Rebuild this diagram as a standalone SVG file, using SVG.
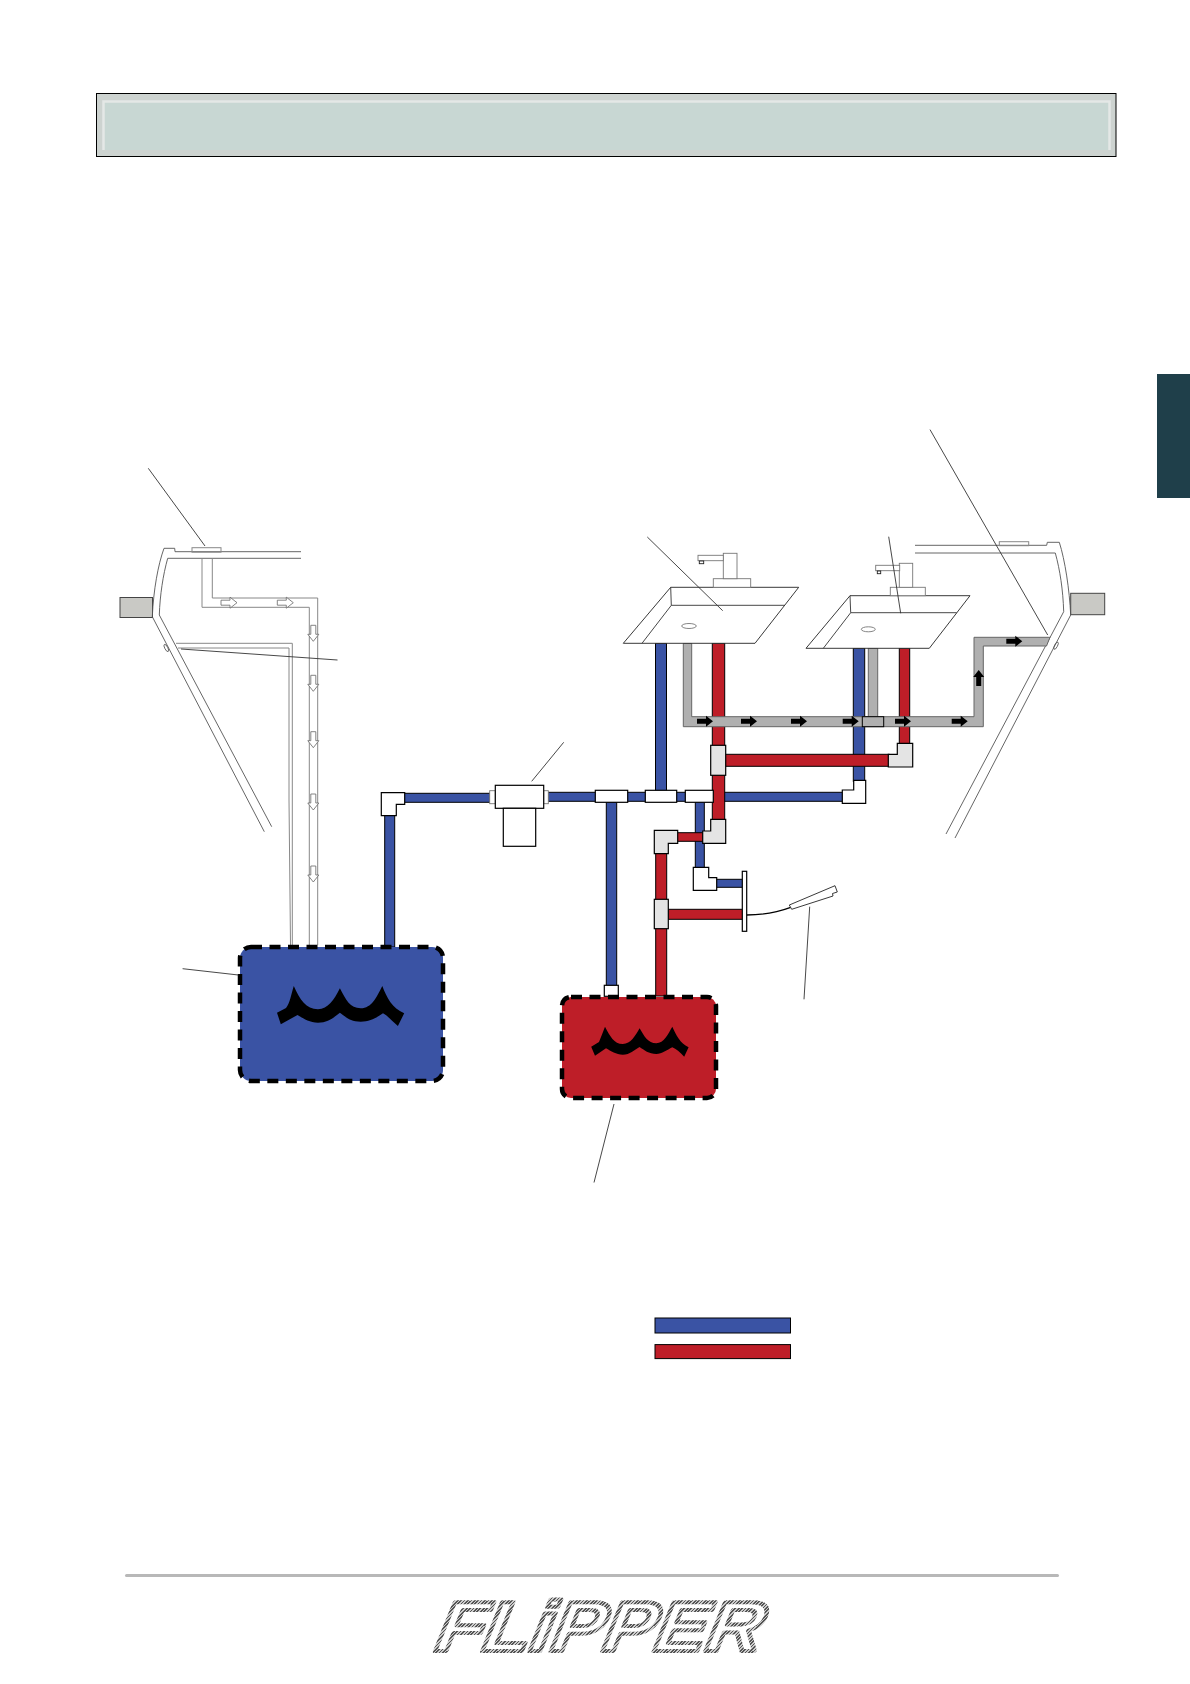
<svg xmlns="http://www.w3.org/2000/svg" width="1190" height="1684" viewBox="0 0 1190 1684">
<style>
.ln{fill:none;stroke:#333;stroke-width:.9}
.hull{fill:none;stroke:#555;stroke-width:.9}
.lt{fill:none;stroke:#888;stroke-width:1}
.sink{fill:#fff;stroke:#222;stroke-width:.9}
.fx{fill:#fff;stroke:#777;stroke-width:.9}
.blue{fill:#3a53a4;stroke:#000;stroke-width:1}
.red{fill:#be1e28;stroke:#000;stroke-width:1}
.gray{fill:#b0b0b0;stroke:#666;stroke-width:1}
.fw{fill:#fff;stroke:#000;stroke-width:1.2}
.fg{fill:#e4e4e4;stroke:#000;stroke-width:1.2}
.box{fill:#c9c9c5;stroke:#444;stroke-width:1}
.tank{stroke:#000;stroke-width:4.5;stroke-dasharray:11 7.500}
</style>
<defs>
<path id="ar" d="M0-2.500H9V-5.500L16 0L9 5.500V2.500H0Z" fill="#000"/>
<path id="aw" d="M0-2.500H9V-5.500L16 0L9 5.500V2.500H0Z" fill="#fff" stroke="#666" stroke-width=".8"/>
<linearGradient id="chrome" gradientUnits="userSpaceOnUse" x1="0" y1="0" x2="2.500" y2="1.500" spreadMethod="repeat">
<stop offset="0" stop-color="#555"/><stop offset=".5" stop-color="#555"/><stop offset=".5" stop-color="#ccc"/><stop offset="1" stop-color="#ccc"/>
</linearGradient>
</defs>

<g id="header"><rect x="96.500" y="93.500" width="1019.500" height="63" fill="#cdd3d0" stroke="#000" stroke-width="1"/><rect x="103" y="101" width="1006" height="49" fill="#c8d7d3"/><path d="M103.500 150V101.500H1109.500V150" fill="none" stroke="#e4e8e6" stroke-width="2.500"/></g>
<rect id="side-tab" x="1157" y="374" width="33" height="124" fill="#1f3f4a"/>

<g id="hull-left">
<rect class="box" x="120" y="597.500" width="32.500" height="20"/>
<path class="hull" d="M301 551.700H175L174.700 548.300H164C158 565 153.500 590 152.300 616.700L264.300 831.700M301 558.300H167.700C163 575 160 595 159.300 615L271.700 826.700"/>
<rect class="lt" x="192" y="547.700" width="29" height="4.500"/>
<path class="lt" d="M202 558.300V607.300H309.300V945M212.300 558.300V598H317.700V945M176 643.300H292.300V945M178 648H289V800L290.500 945"/>
<ellipse cx="166.300" cy="648" rx="1.500" ry="4" transform="rotate(-28 166.300 648)" fill="none" stroke="#555" stroke-width=".8"/>
<use href="#aw" x="221" y="602.700"/><use href="#aw" x="277.300" y="602.700"/>
<use href="#aw" transform="translate(313.300 625.300) rotate(90)"/><use href="#aw" transform="translate(313.300 675.300) rotate(90)"/><use href="#aw" transform="translate(313.300 731.700) rotate(90)"/><use href="#aw" transform="translate(313.300 794) rotate(90)"/><use href="#aw" transform="translate(313.300 866) rotate(90)"/>
</g>

<g id="hull-right">
<rect class="box" x="1070.700" y="593.300" width="34" height="21.400"/>
<path class="hull" d="M915 545.300H1046.700L1047.300 542.300H1059.300C1065 560 1069.500 590 1070.700 615L955 838M915 553H1055.300C1060 570 1063 590 1063.700 611.700L946 834"/>
<rect class="lt" x="999.300" y="541.700" width="29.400" height="4"/>
<ellipse cx="1056" cy="645.700" rx="1.500" ry="4" transform="rotate(28 1056 645.700)" fill="none" stroke="#555" stroke-width=".8"/>
</g>

<g id="connectors">
<rect class="blue" x="384.700" y="815" width="10" height="132"/>
<rect class="blue" x="404" y="793.300" width="86" height="9"/>
<rect class="blue" x="548" y="792.300" width="295" height="9"/>
<rect class="blue" x="655.500" y="643.300" width="11" height="148"/>
<rect class="blue" x="606.300" y="802" width="10.400" height="184"/>
<rect class="blue" x="853.300" y="648.300" width="11.400" height="133"/>
<rect class="blue" x="695.300" y="801" width="9" height="67"/>
<rect class="blue" x="716" y="879.300" width="27" height="8"/>
<rect class="red" x="712.300" y="643.300" width="12.400" height="177"/>
<rect class="red" x="725" y="754.300" width="164" height="12"/>
<rect class="red" x="899.300" y="648.300" width="10.400" height="96"/>
<rect class="red" x="677" y="832.700" width="26" height="8.600"/>
<rect class="red" x="655.700" y="853" width="11" height="143"/>
<rect class="red" x="668" y="909.300" width="75" height="10"/>
<path class="gray" d="M683.300 643.300H691.700V716.700H974V637.300H1050L1046.500 646H983.300V726.700H683.300Z"/>
<rect class="gray" x="868.300" y="648.300" width="9.400" height="68.400"/>
<path d="M746.700 915C765 915 778 912 790.700 907.300" fill="none" stroke="#000" stroke-width="1.300"/>
<use href="#ar" x="697" y="721.300"/><use href="#ar" x="741" y="721.300"/><use href="#ar" x="791" y="721.300"/><use href="#ar" x="842.700" y="721.300"/><use href="#ar" x="895" y="721.300"/><use href="#ar" x="951.700" y="721.300"/><use href="#ar" x="1006.300" y="641.300"/>
<use href="#ar" transform="translate(978.700 686) rotate(-90)"/>
</g>

<g id="basin-1">
<path class="sink" d="M623.300 643.300L670.700 587.300H798.700L755 643.300Z"/>
<path class="ln" d="M642 643.300L671.300 605.300H784.700M670.700 587.300L671.300 605.300"/>
<ellipse class="fx" cx="689" cy="626" rx="7.300" ry="2.500"/>
<rect class="fx" x="713.300" y="578.700" width="37.400" height="8.600"/><rect class="fx" x="723.300" y="553.300" width="13.700" height="25.400"/><rect class="fx" x="698" y="555.300" width="25.300" height="5.400"/><rect class="sink" x="699.300" y="561" width="4.400" height="2.700"/>
</g>
<g id="basin-2">
<path class="sink" d="M806 648.300L850 595.700H970L929.300 648.300Z"/>
<path class="ln" d="M823.300 648.300L850.700 612.700H956.700M850 595.700L850.700 612.700"/>
<ellipse class="fx" cx="868.300" cy="629.300" rx="7" ry="2.500"/>
<rect class="fx" x="890.300" y="587.300" width="35" height="8.400"/><rect class="fx" x="899.300" y="563.300" width="13.400" height="24"/><rect class="fx" x="875.700" y="565.300" width="24" height="5.400"/><rect class="sink" x="877.300" y="571" width="3.400" height="2.700"/>
</g>

<g id="filter">
<rect class="fx" x="489.700" y="790.700" width="5.600" height="13"/><rect class="fx" x="543.700" y="790.700" width="4.600" height="13"/>
<rect class="fw" x="495.300" y="785.300" width="48.400" height="23"/><rect class="fw" x="503.300" y="808.300" width="32.400" height="38"/>
</g>
<g id="fittings">
<path class="fw" d="M381.300 792.700H404.700V804.300H396.300V815.700H381.300Z"/>
<rect class="fw" x="595.300" y="790.300" width="32.400" height="12"/><rect class="fw" x="645.300" y="790.300" width="31.400" height="12"/><rect class="fw" x="685.300" y="790.300" width="28" height="12"/>
<path class="fw" d="M853.700 780.300H865.700V803.300H842.300V790H853.700Z"/>
<rect class="fw" x="604.300" y="985.300" width="14" height="11"/>
<path class="fw" d="M693.300 867.300H708.700V877.700H716.700V890.300H693.300Z"/>
<rect class="fg" x="710.700" y="745.300" width="15" height="30"/>
<path class="fg" d="M897.300 743.300H912.700V767H888.300V754.300H897.300Z"/>
<path class="fg" d="M710.700 819.300H725.700V843.300H702.700V831H710.700Z"/>
<path class="fg" d="M654.300 830.300H677.700V843.300H668.300V853.700H654.300Z"/>
<rect class="fg" x="654.300" y="899.300" width="14" height="29.400"/>
<rect class="gray" x="862.300" y="716.700" width="21.400" height="10" style="stroke:#000"/>
</g>
<g id="shower">
<rect class="fw" x="742.300" y="871.300" width="4.400" height="60"/>
<path class="sink" d="M789.300 905L835 885.700L837.300 892L832.500 893.500L833 896L791.700 909.300Z"/>
</g>

<g id="tank-blue">
<rect class="tank" x="240" y="947" width="203" height="134" rx="11" fill="#3a53a4"/>
<path d="M277 1012.700L286 1008C290 1003 291 995 293.800 986C300 1000 306 1009 318 1009.300C328 1009 334 1000 339.900 988.300C346 1000 350 1008.300 360.700 1008.300C372 1008 376 998 382.300 986C387 998 392 1008 404.200 1013.300L397.900 1026C392 1021 388 1016 383 1013.300C376 1018 370 1021.700 360.700 1021.700C350 1021.700 346 1017 339.900 1012.700C333 1018 328 1022.700 318 1022.700C309 1022.700 303 1018 297.500 1015L280.800 1024.300Z" fill="#000"/>
</g>
<g id="tank-red">
<rect class="tank" x="562" y="997" width="154" height="101" rx="9" fill="#be1e28"/>
<path d="M591.200 1046.700L599 1042C601 1037 603 1032 605 1026.700C610 1036 614 1044 622.800 1044C631 1044 635 1036 639.600 1028.300C644 1036 648 1043.300 656.300 1043.300C664 1043 668 1034 672.300 1026.700C676 1035 680 1043 688.600 1047.300L684.200 1056.700C680 1052 676 1049 672.300 1047.300C667 1050 662 1054 656.300 1054C649 1054 644 1050 639.600 1047C634 1050 630 1054.700 622.800 1054.700C616 1054.700 611 1051 606 1048.300L595 1055.700Z" fill="#000"/>
</g>

<g id="leaders">
<path class="ln" d="M148.300 468.300L205 546M181 649L337.500 660M647.300 537L722.700 610.700M888.700 536.700L900.700 613.300M930 429.600L1047.700 635M563.700 742.300L531.700 781.300M809.700 906.700L804 999.300M182.600 968.700L238.400 975M614 1104L594 1182.500"/>
</g>

<g id="legend"><rect class="blue" x="655" y="1318" width="135.500" height="15"/><rect class="red" x="655" y="1344.600" width="135.500" height="14"/></g>

<g id="footer">
<rect x="125" y="1574" width="934" height="3" rx="1.500" fill="#b8b8b8"/>
<text transform="translate(430 1651) skewX(-22)" font-family="'Liberation Sans',sans-serif" font-size="71" font-weight="700" textLength="326" lengthAdjust="spacingAndGlyphs" fill="#fff" stroke="url(#chrome)" stroke-width="4" stroke-linejoin="round">FLiPPER</text>
</g>
</svg>
